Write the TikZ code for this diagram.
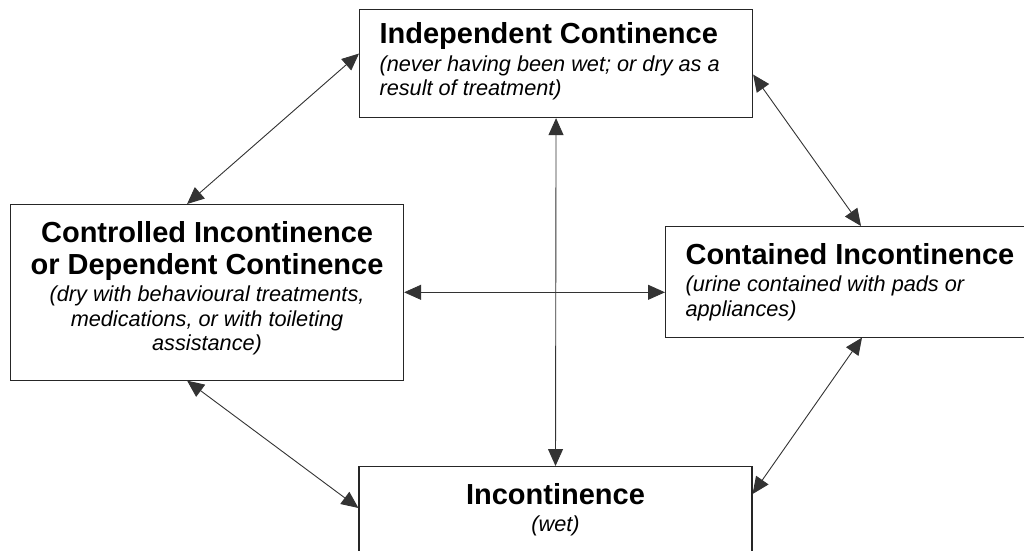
\documentclass[tikz,border=0pt]{standalone}
\usepackage{fontspec}
\setmainfont{Liberation Sans}
\usetikzlibrary{arrows.meta,positioning}
\newcommand{\headfont}{\fontsize{29}{32}\selectfont\bfseries\spaceskip=\fontdimen2\font\xspaceskip=\fontdimen2\font}
\newcommand{\notefont}{\par\vspace{3pt}\fontsize{21.7}{24.5}\selectfont\mdseries\itshape\spaceskip=\fontdimen2\font\xspaceskip=\fontdimen2\font}
\newcommand{\lowend}[1]{\rule[-#1pt]{0pt}{0pt}\par}
\tikzset{
	state/.style={draw=black!85, line width=1.1pt, fill=white, inner xsep=20pt, inner ysep=16.5pt},
	link/.style={draw=black!80, line width=0.9pt, {Triangle[length=17pt,width=15pt]}-{Triangle[length=17pt,width=15pt]}}
}
\begin{document}
\begin{tikzpicture}[x=1pt, y=-1pt]
	\useasboundingbox (0,0) rectangle (1024,550);
	\node [state, anchor=north west, text width=353pt, inner ysep=13pt, align=left] (indep) at (359,9)
		{\headfont Independent Continence\notefont (never having been wet; or dry as a\\ result of treatment)\lowend{9}};
	\node [state, anchor=north west, text width=353pt, align=center] (ctrl) at (10,204)
		{\headfont Controlled Incontinence\\ or Dependent Continence\notefont (dry with behavioural treatments,\\ medications, or with toileting\\ assistance)\lowend{13}};
	\node [state, anchor=north west, text width=360pt, align=left] (cont) at (665,226)
		{\headfont Contained Incontinence\notefont (urine contained with pads or\\ appliances)\lowend{4}};
	\node [state, anchor=north, text width=353pt, align=center] (incon) at (555.5,466)
		{\headfont Incontinence\notefont (wet)\lowend{60}};
	\draw [link] ([yshift=10pt]indep.west) -- ([xshift=-20pt]ctrl.north);
	\draw [link] ([yshift=-11pt]indep.east) -- ([xshift=196pt]cont.north west);
	\draw [link] ([xshift=-20pt]ctrl.south) -- ([yshift=-42pt]incon.north west);
	\draw [link] ([xshift=197pt]cont.south west) -- ([yshift=-28pt]incon.north east);
	\draw [link] (indep.south) -- (incon.north);
	\draw [link] (ctrl.east) -- (ctrl.east -| cont.west);
\end{tikzpicture}
\end{document}
